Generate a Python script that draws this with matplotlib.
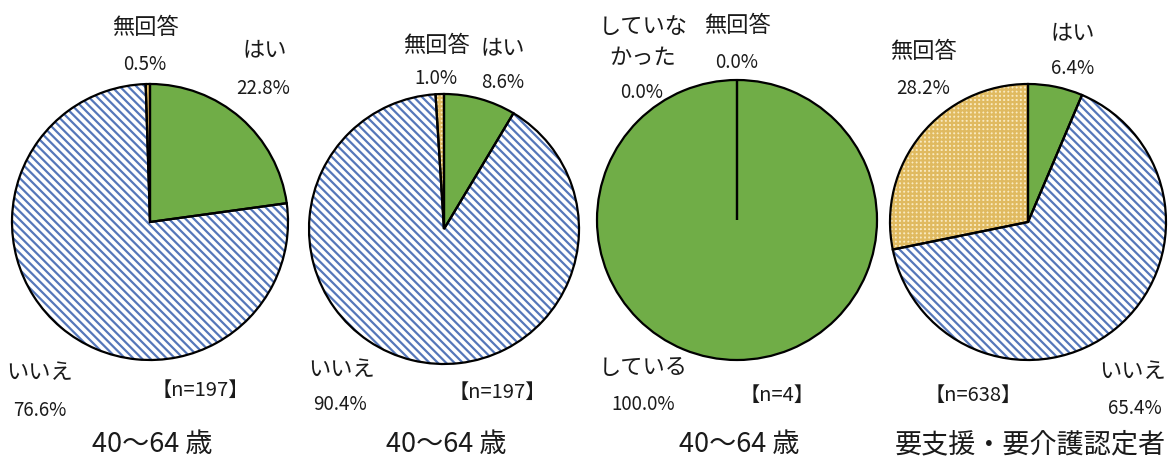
import matplotlib.pyplot as plt

plt.rcParams['font.family'] = ['Noto Sans CJK JP', 'DejaVu Sans']
plt.rcParams['hatch.linewidth'] = 1.6

# データ
titles = ['40〜64 歳', '40〜64 歳', '40〜64 歳', '要支援・要介護認定者']
sample_sizes = [197, 197, 4, 638]
labels = [
    ['はい', 'いいえ', '無回答'],
    ['はい', 'いいえ', '無回答'],
    ['している', 'していな\nかった', '無回答'],
    ['はい', 'いいえ', '無回答'],
]
values = [
    [22.8, 76.6, 0.5],
    [8.6, 90.4, 1.0],
    [100.0, 0.0, 0.0],
    [6.4, 65.4, 28.2],
]

W, H = 1168, 466

# 円の配置 (画像座標)
centers = [(150, 222), (444, 229), (737, 220), (1028, 222)]
radii = [138, 135, 140, 138]

# ラベルの配置 (画像座標): 名前, 割合
label_pos = [
    [(265, 50), (40, 373), (145, 27)],
    [(503, 48), (342, 370), (436, 45)],
    [(643, 368), (643, 42), (737, 25)],
    [(1073, 33), (1133, 372), (923, 52)],
]
pct_pos = [
    [(263, 88), (40, 410), (145, 64)],
    [(503, 82), (340, 405), (436, 78)],
    [(643, 405), (642, 92), (737, 62)],
    [(1073, 68), (1135, 408), (923, 88)],
]
n_pos = [(200, 390), (497, 392), (777, 395), (973, 395)]
title_y = 445

face = ['#70AD47', 'white', '#F9EAC0']
hatch_col = ['#70AD47', '#5577BA', '#E0BA60']
hatches = ['', '\\\\\\\\', '++++']

fig = plt.figure(figsize=(W / 100, H / 100), dpi=100)
ax = fig.add_axes([0, 0, 1, 1])

for i in range(4):
    cx, cy = centers[i]
    c = (cx, H - cy)
    wedges, _ = ax.pie(values[i], colors=face, hatch=hatches, startangle=90,
                       counterclock=False, center=c, radius=radii[i],
                       wedgeprops=dict(linewidth=0), frame=True)
    for w, hc in zip(wedges, hatch_col):
        w.set_edgecolor(hc)
    ax.pie(values[i], colors=['none'] * 3, startangle=90, counterclock=False,
           center=c, radius=radii[i], frame=True,
           wedgeprops=dict(edgecolor='black', linewidth=1.6, fill=False))

    for lab, v, (lx, ly), (px, py) in zip(labels[i], values[i], label_pos[i], pct_pos[i]):
        ax.text(lx, H - ly, lab, ha='center', va='center', fontsize=16,
                color='#1a1a1a', linespacing=1.45)
        ax.text(px, H - py, f'{v:.1f}%', ha='center', va='center',
                fontsize=13.5, color='#1a1a1a')
    nx, ny = n_pos[i]
    ax.text(nx, H - ny, f'【n={sample_sizes[i]}】', ha='center', va='center',
            fontsize=14.5, color='#1a1a1a')
    ax.text(cx + 2, H - title_y, titles[i], ha='center', va='center', fontsize=19.5,
            color='#1a1a1a')

ax.set_xlim(0, W)
ax.set_ylim(0, H)
ax.set_aspect('equal')
ax.axis('off')
fig.savefig('out.png', dpi=100)
